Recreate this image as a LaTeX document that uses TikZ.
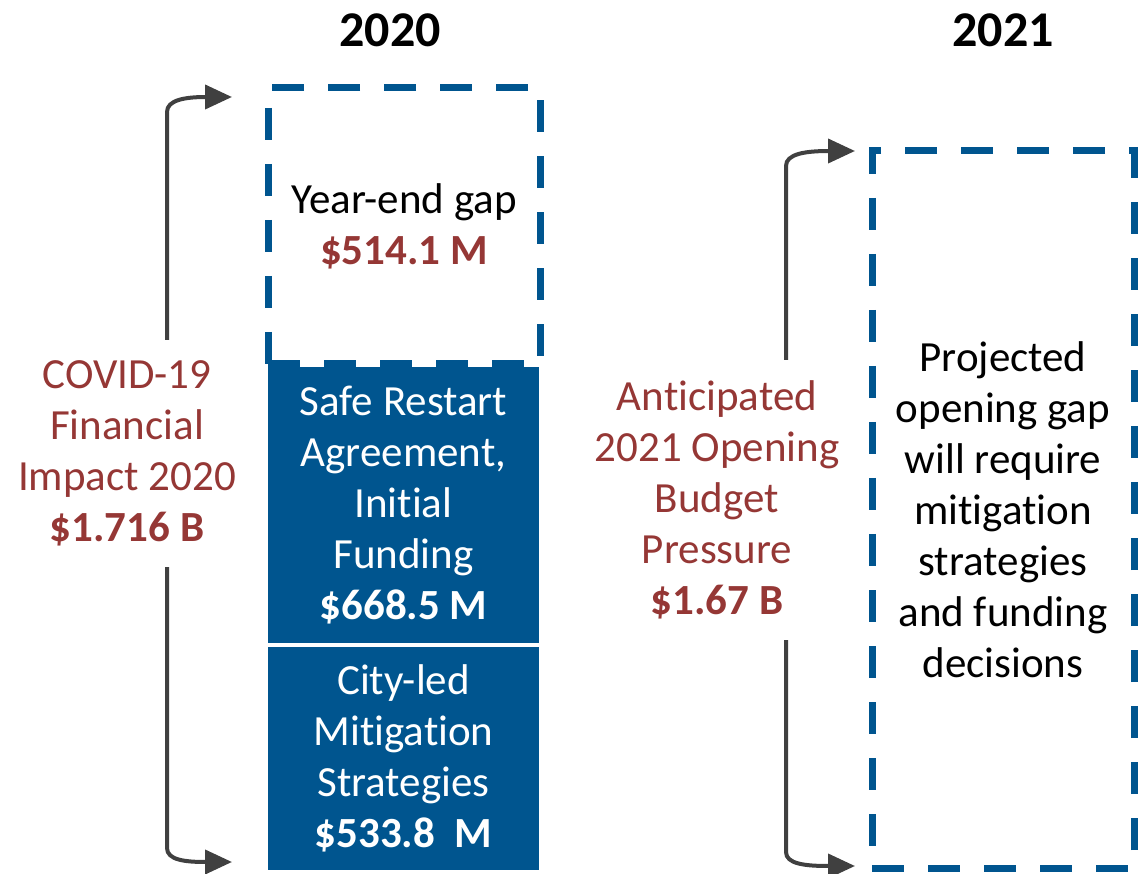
\documentclass[tikz,border=0pt]{standalone}
\usepackage{fontspec}
\setmainfont{Carlito}[RawFeature={-liga;-calt;-clig;-dlig}]
\usetikzlibrary{arrows.meta}
\definecolor{cblue}{HTML}{00558F}
\definecolor{cred}{HTML}{953735}
\definecolor{cgray}{HTML}{404040}
\tikzset{
  txt/.style={align=center,font=\fontsize{43}{51}\selectfont,inner sep=0pt},
  title/.style={font=\fontsize{50}{60}\selectfont\bfseries,inner sep=0pt},
  dashbox/.style={draw=cblue,line width=7pt,dash pattern=on 32pt off 24pt,inner sep=0pt},
  fillbox/.style={fill=cblue,text=white,inner sep=0pt},
  arr/.style={draw=cgray,line width=4pt,-{Triangle[length=27pt,width=24pt]}},
}
\begin{document}
\begin{tikzpicture}[x=1pt,y=-1pt]
\useasboundingbox (0,0) rectangle (1144,874);
% titles
\node[title] (t20) at (390,30) {2020};
\node[title] (t21) at (1003,30) {2021};
% 2020 column
\node[dashbox,txt,minimum width=272pt,minimum height=276pt] (gap) at (404,226)
  {Year-end gap\\\textcolor{cred}{\bfseries\$514.1 M}};
\node[fillbox,txt,minimum width=271pt,minimum height=276pt] (sra) at (403.5,505)
  {Safe Restart\\Agreement,\\Initial\\Funding\\\textbf{\$668.5 M}};
\node[fillbox,txt,minimum width=271pt,minimum height=223pt] (city) at (403.5,758.5)
  {City-led\\Mitigation\\Strategies\\\textbf{\$533.8\ \ M}};
% left label
\node[txt,text=cred] (covid) at (127,453)
  {COVID-19\\Financial\\Impact 2020\\\textbf{\$1.716 B}};
\coordinate (l1s) at (167,340);
\coordinate (l1e) at (232,97);
\coordinate (l2s) at (167,567);
\coordinate (l2e) at (232,862);
\draw[arr] (l1s) -- (167,112) .. controls (167,100) and (185,97) .. (l1e);
\draw[arr] (l2s) -- (167,848) .. controls (167,860) and (185,862) .. (l2e);
% 2021 column
\node[dashbox,txt,minimum width=262pt,minimum height=717pt] (proj) at (1003,509.5)
  {Projected\\opening gap\\will require\\mitigation\\strategies\\and funding\\decisions};
\node[txt,text=cred] (antic) at (717,500)
  {Anticipated\\2021 Opening\\Budget\\Pressure\\\textbf{\$1.67 B}};
\coordinate (r1s) at (786,360);
\coordinate (r1e) at (855,151);
\coordinate (r2s) at (786,640);
\coordinate (r2e) at (855,866);
\draw[arr] (r1s) -- (786,166) .. controls (786,154) and (805,151) .. (r1e);
\draw[arr] (r2s) -- (786,852) .. controls (786,864) and (805,866) .. (r2e);
\end{tikzpicture}
\end{document}
